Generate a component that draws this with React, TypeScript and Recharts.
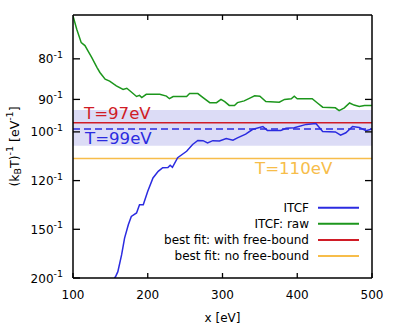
import { LineChart, Line, XAxis, YAxis, ReferenceLine, ReferenceArea, Legend } from "recharts";

const FONT = "DejaVu Sans";
const BLUE = "#2b2be0";
const GREEN = "#1c961c";
const RED = "#d01c26";
const ORANGE = "#f7bd4a";
const BAND = "#dcdcf6";

// ITCF: raw  (x in eV, temperature T in eV)
const rawX = [100, 105, 111, 116, 120, 125, 132, 136, 143, 149, 158, 167, 172, 178, 185, 189, 192, 198, 216, 225, 229, 234, 252, 256, 267, 274, 283, 292, 298, 303, 309, 316, 320, 329, 338, 343, 350, 358, 376, 383, 392, 396, 400, 420, 427, 434, 451, 456, 463, 470, 476, 483, 490, 500];
const rawT = [71.6, 74.0, 76.6, 77.2, 78.3, 79.7, 81.9, 83.1, 84.7, 85.2, 86.4, 87.3, 87.0, 88.0, 89.2, 88.9, 89.5, 88.6, 88.6, 89.1, 89.8, 89.2, 89.2, 88.4, 88.4, 89.5, 90.9, 90.9, 90.0, 90.6, 91.7, 91.7, 90.9, 90.4, 89.5, 89.0, 89.1, 90.6, 90.8, 90.0, 89.8, 89.1, 89.8, 89.8, 91.0, 92.2, 92.4, 93.2, 92.4, 91.0, 91.6, 92.0, 91.7, 91.7];

// ITCF
const itcfX = [155, 157, 160, 165, 169, 174, 178, 185, 189, 194, 200, 207, 214, 220, 227, 230, 233, 240, 252, 260, 267, 274, 280, 287, 296, 305, 314, 320, 331, 340, 354, 360, 378, 385, 396, 412, 425, 434, 451, 458, 465, 474, 483, 492, 500];
const itcfT = [201, 198, 191.7, 172.7, 157.1, 146.6, 140.7, 138.4, 133.2, 133.2, 125.5, 118.7, 115.6, 114.0, 113.9, 112.9, 113.8, 109.7, 107.1, 104.5, 103.0, 103.1, 103.9, 103.1, 103.2, 102.3, 102.9, 102.1, 100.8, 99.2, 98.2, 99.5, 99.5, 98.8, 98.6, 97.5, 97.2, 99.9, 100.0, 101.1, 100.3, 98.2, 98.5, 99.6, 99.0];

const X_TICKS = [100, 200, 300, 400, 500];
const X_TOP_TICKS = [200, 300, 400];
const Y_TICK_T = [80, 90, 100, 120, 150, 200];
const Y_RIGHT_TICK_T = [80, 90, 100, 120, 150];

const FIT_FB_T = 97;
const FIT_NOFB_T = 110;
const ITCF_T = 99;
const ITCF_BAND_T = [105, 93];

const LEGEND = [
  { label: "ITCF", color: BLUE },
  { label: "ITCF: raw", color: GREEN },
  { label: "best fit: with free-bound", color: RED },
  { label: "best fit: no free-bound", color: ORANGE },
];

const rawData = rawX.map((x, i) => ({ x, y: 1 / rawT[i] }));
const itcfData = itcfX.map((x, i) => ({ x, y: 1 / itcfT[i] }));

const BottomTick = (props: any) => {
  const { x, y, payload } = props;
  return (
    <g>
      <line x1={x} x2={x} y1={y} y2={y - 5} stroke="#000" strokeWidth={1.3} />
      <text x={x} y={y + 21} textAnchor="middle" fontSize={12} fontFamily={FONT} fill="#000">
        {payload.value}
      </text>
    </g>
  );
};

const TopTick = (props: any) => {
  const { x, y } = props;
  return <line x1={x} x2={x} y1={y} y2={y + 5} stroke="#000" strokeWidth={1.3} />;
};

const LeftTick = (props: any) => {
  const { x, y, payload } = props;
  return (
    <g>
      <line x1={x} x2={x + 7} y1={y} y2={y} stroke="#000" strokeWidth={1.3} />
      <text x={x - 10} y={y + 4.5} textAnchor="end" fontSize={12} fontFamily={FONT} fill="#000">
        {Math.round(1 / payload.value)}
        <tspan dy={-5.5} fontSize={9.5}>-1</tspan>
      </text>
    </g>
  );
};

const RightTick = (props: any) => {
  const { x, y } = props;
  return <line x1={x} x2={x - 7} y1={y} y2={y} stroke="#000" strokeWidth={1.3} />;
};

const YTitle = (props: any) => {
  const vb = props.viewBox;
  const cx = vb.x + 14;
  const cy = vb.y + vb.height / 2;
  return (
    <text
      x={cx}
      y={cy}
      transform={`rotate(-90, ${cx}, ${cy})`}
      textAnchor="middle"
      dominantBaseline="central"
      fontSize={12.5}
      fontFamily={FONT}
      fill="#000"
    >
      (k<tspan dy={3} fontSize={9.5}>B</tspan>
      <tspan dy={-3}>T)</tspan>
      <tspan dy={-5} fontSize={9.5}>-1</tspan>
      <tspan dy={5}> [eV</tspan>
      <tspan dy={-5} fontSize={9.5}>-1</tspan>
      <tspan dy={5}>]</tspan>
    </text>
  );
};

const XTitle = (props: any) => {
  const vb = props.viewBox;
  return (
    <text x={vb.x + vb.width / 2} y={vb.y + 44} textAnchor="middle" fontSize={12} fontFamily={FONT} fill="#000">
      x [eV]
    </text>
  );
};

const lineLabel = (text: string, color: string, dx: number, dy: number) => (props: any) => {
  const vb = props.viewBox;
  return (
    <text x={vb.x + dx} y={vb.y + dy} fontSize={16.6} fontFamily={FONT} fill={color}>
      {text}
    </text>
  );
};

const LegendBox = () => (
  <svg width={270} height={70}>
    {LEGEND.map((item, i) => (
      <g key={item.label}>
        <text x={209} y={14 + i * 16.1} textAnchor="end" fontSize={12} fontFamily={FONT} fill="#000">
          {item.label}
        </text>
        <line x1={218} x2={259} y1={9.7 + i * 16.1} y2={9.7 + i * 16.1} stroke={item.color} strokeWidth={2} />
      </g>
    ))}
  </svg>
);

export default function App() {
  const axisLine = { stroke: "#000", strokeWidth: 1.5 };
  return (
    <div style={{ position: "absolute", left: 0, top: 0, width: 399, height: 330, background: "#fff" }}>
      <LineChart width={399} height={330} margin={{ top: 0, right: 0, bottom: 0, left: 0 }}>
        <XAxis
          xAxisId="b"
          dataKey="x"
          type="number"
          domain={[100, 500]}
          ticks={X_TICKS}
          allowDataOverflow
          height={52}
          tickSize={0}
          tickMargin={0}
          tickLine={false}
          axisLine={axisLine}
          tick={<BottomTick />}
          label={{ content: <XTitle /> }}
        />
        <XAxis
          xAxisId="t"
          orientation="top"
          dataKey="x"
          type="number"
          domain={[100, 500]}
          ticks={X_TOP_TICKS}
          allowDataOverflow
          height={15}
          tickSize={0}
          tickMargin={0}
          tickLine={false}
          axisLine={axisLine}
          tick={<TopTick />}
        />
        <YAxis
          yAxisId="l"
          type="number"
          domain={[0.005, 0.014]}
          ticks={Y_TICK_T.map((t) => 1 / t)}
          allowDataOverflow
          width={73}
          tickSize={0}
          tickMargin={0}
          tickLine={false}
          axisLine={axisLine}
          tick={<LeftTick />}
          label={{ content: <YTitle /> }}
        />
        <YAxis
          yAxisId="r"
          orientation="right"
          type="number"
          domain={[0.005, 0.014]}
          ticks={Y_RIGHT_TICK_T.map((t) => 1 / t)}
          allowDataOverflow
          width={27}
          tickSize={0}
          tickMargin={0}
          tickLine={false}
          axisLine={axisLine}
          tick={<RightTick />}
        />

        <ReferenceArea
          xAxisId="b"
          yAxisId="l"
          y1={1 / ITCF_BAND_T[0]}
          y2={1 / ITCF_BAND_T[1]}
          fill={BAND}
          fillOpacity={1}
          stroke="none"
        />
        <ReferenceLine
          xAxisId="b"
          yAxisId="l"
          y={1 / FIT_FB_T}
          stroke={RED}
          strokeWidth={1.5}
          label={{ content: lineLabel(`T=${FIT_FB_T}eV`, RED, 11, -4) }}
        />
        <ReferenceLine
          xAxisId="b"
          yAxisId="l"
          y={1 / ITCF_T}
          stroke={BLUE}
          strokeWidth={1.5}
          strokeDasharray="7 4"
          label={{ content: lineLabel(`T=${ITCF_T}eV`, BLUE, 12, 15) }}
        />
        <ReferenceLine
          xAxisId="b"
          yAxisId="l"
          y={1 / FIT_NOFB_T}
          stroke={ORANGE}
          strokeWidth={1.5}
          label={{ content: lineLabel(`T=${FIT_NOFB_T}eV`, ORANGE, 182, 16) }}
        />

        <Line
          xAxisId="b"
          yAxisId="l"
          data={rawData}
          dataKey="y"
          type="linear"
          stroke={GREEN}
          strokeWidth={1.5}
          dot={false}
          isAnimationActive={false}
        />
        <Line
          xAxisId="b"
          yAxisId="l"
          data={itcfData}
          dataKey="y"
          type="linear"
          stroke={BLUE}
          strokeWidth={1.5}
          dot={false}
          isAnimationActive={false}
        />

        <Legend
          layout="vertical"
          align="center"
          verticalAlign="middle"
          wrapperStyle={{ left: 100, top: 198, width: 270, height: 70 }}
          content={() => <LegendBox />}
        />
      </LineChart>
    </div>
  );
}
